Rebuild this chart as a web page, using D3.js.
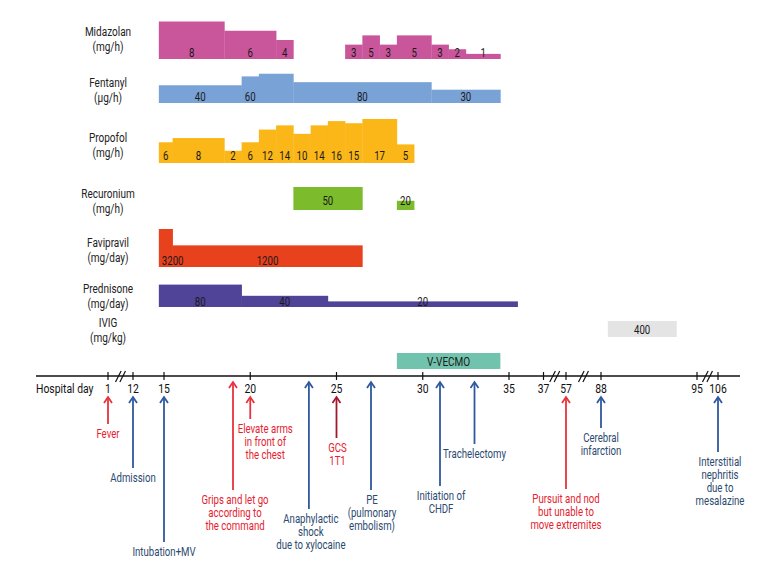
<!DOCTYPE html>
<html lang="en">
<head>
    <meta charset="UTF-8">
    <title>Clinical course timeline</title>
    <script src="https://d3js.org/d3.v7.min.js"></script>
    <style>
        body { margin: 0; background: #fff; }
        svg text {
            font-family: "Roboto", "Liberation Sans", sans-serif;
        }
        .drug-label { font-size: 13px; fill: #222; }
        .dose-label { font-size: 12.5px; fill: #1a1a1a; }
        .tick-label { font-size: 13.5px; fill: #111; }
        .event-label { font-size: 12.5px; }
        .axis-line { stroke: #111; stroke-width: 1.6px; }
    </style>
</head>
<body>
    <script>
        // hospital day ticks on the timeline, and where the axis is broken
        const tickDays = [1, 12, 15, 20, 25, 30, 35, 37, 57, 88, 95, 106];
        const breakAfter = [1, 37, 57, 95];

        // drug names and units (left column)
        const drugNames = ["Midazolan", "Fentanyl", "Propofol", "Recuronium", "Favipravil", "Prednisone", "IVIG"];
        const drugUnits = ["(mg/h)", "(μg/h)", "(mg/h)", "(mg/h)", "(mg/day)", "(mg/day)", "(mg/kg)"];

        // dosing periods: first day, last day, dose
        const midazolanStart = [15, 19, 22, 26, 27, 28, 29, 31, 32, 33];
        const midazolanEnd   = [18, 21, 22, 26, 27, 28, 30, 31, 32, 34];
        const midazolanDose  = [8, 6, 4, 3, 5, 3, 5, 3, 2, 1];

        const fentanylStart = [15, 20, 21, 23, 31];
        const fentanylEnd   = [19, 20, 22, 30, 34];
        const fentanylLevel = [40, 60, 66, 47, 30];   // step height as drawn
        const fentanylLabel = ["40", "60", "", "80", "30"];

        const propofolStart = [15, 16, 19, 20, 21, 22, 23, 24, 25, 26, 27, 29];
        const propofolEnd   = [15, 18, 19, 20, 21, 22, 23, 24, 25, 26, 28, 29];
        const propofolDose  = [6, 8, 2, 6, 12, 14, 10, 14, 16, 15, 17, 5];

        const recuroniumStart = [23, 29];
        const recuroniumEnd   = [26, 29];
        const recuroniumDose  = [50, 20];

        const favipravilStart = [15, 16];
        const favipravilEnd   = [15, 26];
        const favipravilDose  = [3200, 1200];

        const prednisoneStart = [15, 20, 25];
        const prednisoneEnd   = [19, 24, 35];
        const prednisoneDose  = [80, 40, 20];

        const ivigStart = [89];
        const ivigEnd   = [93];
        const ivigDose  = [400];

        const ecmoStart = 29, ecmoEnd = 34, ecmoLabel = "V-VECMO";

        // clinical events under the axis
        const eventDays = [1, 12, 15, 19, 20, 23.4, 25, 27, 31, 33, 57, 88, 106];
        const eventKind = ["status", "event", "event", "status", "status", "event", "gcs",
                           "event", "event", "event", "status", "event", "event"];
        const eventText = [
            ["Fever"],
            ["Admission"],
            ["Intubation+MV"],
            ["Grips and let go", "according to", "the command"],
            ["Elevate arms", "in front of", "the chest"],
            ["Anaphylactic", "shock", "due to xylocaine"],
            ["GCS", "1T1"],
            ["PE", "(pulmonary", "embolism)"],
            ["Initiation of", "CHDF"],
            ["Trachelectomy"],
            ["Pursuit and nod", "but unable to", "move extremites"],
            ["Cerebral", "infarction"],
            ["Interstitial", "nephritis", "due to", "mesalazine"]
        ];

        const width = 780, height = 576;
        const squeeze = 0.77;   // the original uses a condensed face

        const svg = d3.select("body").append("svg")
            .attr("width", width)
            .attr("height", height);

        // condensed text helper: text sits at the origin and is squeezed horizontally
        function label(parent, tx, ty, str, anchor, cls) {
            return parent.append("text")
                .attr("class", cls)
                .attr("text-anchor", anchor)
                .attr("transform", `translate(${tx},${ty}) scale(${squeeze},1)`)
                .text(str);
        }

        // piecewise day scale: linear from day 15 to 37, compressed across the breaks
        const dayPx = 17.25;
        const x = d3.scaleLinear()
            .domain([1, 12, 15, 37, 57, 88, 95, 106])
            .range([108, 133, 164, 164 + 22 * dayPx, 566, 601, 697, 718]);

        const axisY = 376;

        // drug rows: bar baseline and height range for each
        const rows = [
            { start: midazolanStart, end: midazolanEnd, level: midazolanDose, label: midazolanDose.map(String),
              color: "#c9559b", base: 59, h: d3.scaleLinear().domain([0, 8]).range([0.5, 37.5]), textY: 56.5 },
            { start: fentanylStart, end: fentanylEnd, level: fentanylLevel, label: fentanylLabel,
              color: "#79a2d7", base: 103, h: d3.scaleLinear().domain([0, 60]).range([0, 26.6]), textY: 101 },
            { start: propofolStart, end: propofolEnd, level: propofolDose, label: propofolDose.map(String),
              color: "#fbb617", base: 163, h: d3.scaleLinear().domain([0, 17]).range([8, 44]), textY: 160 },
            { start: recuroniumStart, end: recuroniumEnd, level: recuroniumDose, label: recuroniumDose.map(String),
              color: "#7cbb2b", base: 210, h: d3.scaleLinear().domain([0, 50]).range([0, 23]), textY: 205 },
            { start: favipravilStart, end: favipravilEnd, level: favipravilDose, label: favipravilDose.map(String),
              color: "#e8411e", base: 267, h: d3.scaleLinear().domain([0, 3200]).range([11.8, 38]), textY: 264.5 },
            { start: prednisoneStart, end: prednisoneEnd, level: prednisoneDose, label: prednisoneDose.map(String),
              color: "#4f4497", base: 307, h: d3.scaleLinear().domain([0, 80]).range([0, 22.4]), textY: 305.5 },
            { start: ivigStart, end: ivigEnd, level: ivigDose, label: ivigDose.map(String),
              color: "#e4e4e4", base: 337, h: d3.scaleLinear().domain([0, 400]).range([0, 16]), textY: 333.5 }
        ];

        const labelY = [31, 82, 137, 193, 242, 288, 322];

        // left column labels
        const names = svg.append("g");
        drugNames.forEach((d, i) => {
            label(names, 108, labelY[i] + 4.5, d, "middle", "drug-label");
            label(names, 108, labelY[i] + 20, drugUnits[i], "middle", "drug-label");
        });

        // dose bars
        rows.forEach(r => {
            const segs = r.start.map((s, i) => ({ s: s, e: r.end[i], v: r.level[i], t: r.label[i] }));
            const g = svg.append("g");

            g.selectAll("rect")
                .data(segs)
              .enter().append("rect")
                .attr("x", d => x(d.s - 0.5))
                .attr("width", d => x(d.e + 0.5) - x(d.s - 0.5) + 0.3)
                .attr("y", d => r.base - r.h(d.v))
                .attr("height", d => r.h(d.v))
                .attr("fill", r.color);

            segs.forEach(d => {
                const x0 = x(d.s - 0.5), x1 = x(d.e + 0.5);
                // a label wider than its step starts at the step's left edge
                if (d.t.length * 6 > x1 - x0) {
                    label(g, x0 + 3, r.textY, d.t, "start", "dose-label");
                } else {
                    label(g, (x0 + x1) / 2, r.textY, d.t, "middle", "dose-label");
                }
            });
        });

        // V-VECMO bar
        svg.append("rect")
            .attr("x", x(ecmoStart - 0.5))
            .attr("width", x(ecmoEnd + 0.5) - x(ecmoStart - 0.5))
            .attr("y", 353)
            .attr("height", 16)
            .attr("fill", "#72c3ae");
        label(svg, (x(ecmoStart - 0.5) + x(ecmoEnd + 0.5)) / 2, 366, ecmoLabel, "middle", "dose-label")
            .style("font-size", "13px");

        // timeline axis
        svg.append("line")
            .attr("class", "axis-line")
            .attr("x1", 36).attr("x2", 740)
            .attr("y1", axisY).attr("y2", axisY);

        label(svg, 36, axisY + 17, "Hospital day", "start", "tick-label");

        const ticks = svg.append("g").selectAll("g")
            .data(tickDays)
          .enter().append("g")
            .attr("transform", d => `translate(${x(d)},${axisY})`);
        ticks.append("line")
            .attr("y1", -4).attr("y2", 4)
            .attr("stroke", "#111").attr("stroke-width", 1.2);
        ticks.each(function(d) {
            label(d3.select(this), 0, 17, d, "middle", "tick-label");
        });

        // axis break marks "//"
        breakAfter.forEach(d => {
            const next = tickDays[tickDays.indexOf(d) + 1];
            const mx = (x(d) + x(next)) / 2;
            [-2.2, 2.2].forEach(o => {
                svg.append("line")
                    .attr("x1", mx + o - 2.8).attr("y1", axisY + 6)
                    .attr("x2", mx + o + 2.8).attr("y2", axisY - 5)
                    .attr("stroke", "#111").attr("stroke-width", 1.2);
            });
        });

        // event arrows and labels
        const firstLine = [433, 477, 551, 499, 428, 518, 447, 499, 495, 453, 498, 437, 461];
        const textShift = [0, 0, 0, 2, 15, 2, 1, 1, 1, 0, 0, 0, 2];
        const arrowColor = { status: "#e8323d", event: "#2e58a0", gcs: "#a3182d" };
        const textColor = { status: "#e5222f", event: "#2b4a6f", gcs: "#e5222f" };

        eventDays.forEach((d, i) => {
            const ex = x(d);
            const tip = tickDays.includes(d) ? 397 : 382;
            const col = arrowColor[eventKind[i]];
            const g = svg.append("g");

            g.append("line")
                .attr("x1", ex).attr("x2", ex)
                .attr("y1", tip + 1).attr("y2", firstLine[i] - 9)
                .attr("stroke", col).attr("stroke-width", 1.8);
            g.append("path")
                .attr("d", `M${ex - 4},${tip + 6}L${ex},${tip}L${ex + 4},${tip + 6}`)
                .attr("fill", "none")
                .attr("stroke", col).attr("stroke-width", 1.8);

            eventText[i].forEach((t, j) => {
                label(g, ex + textShift[i], firstLine[i] + 4.5 + j * 13.3, t, "middle", "event-label")
                    .attr("fill", textColor[eventKind[i]]);
            });
        });
    </script>
</body>
</html>
